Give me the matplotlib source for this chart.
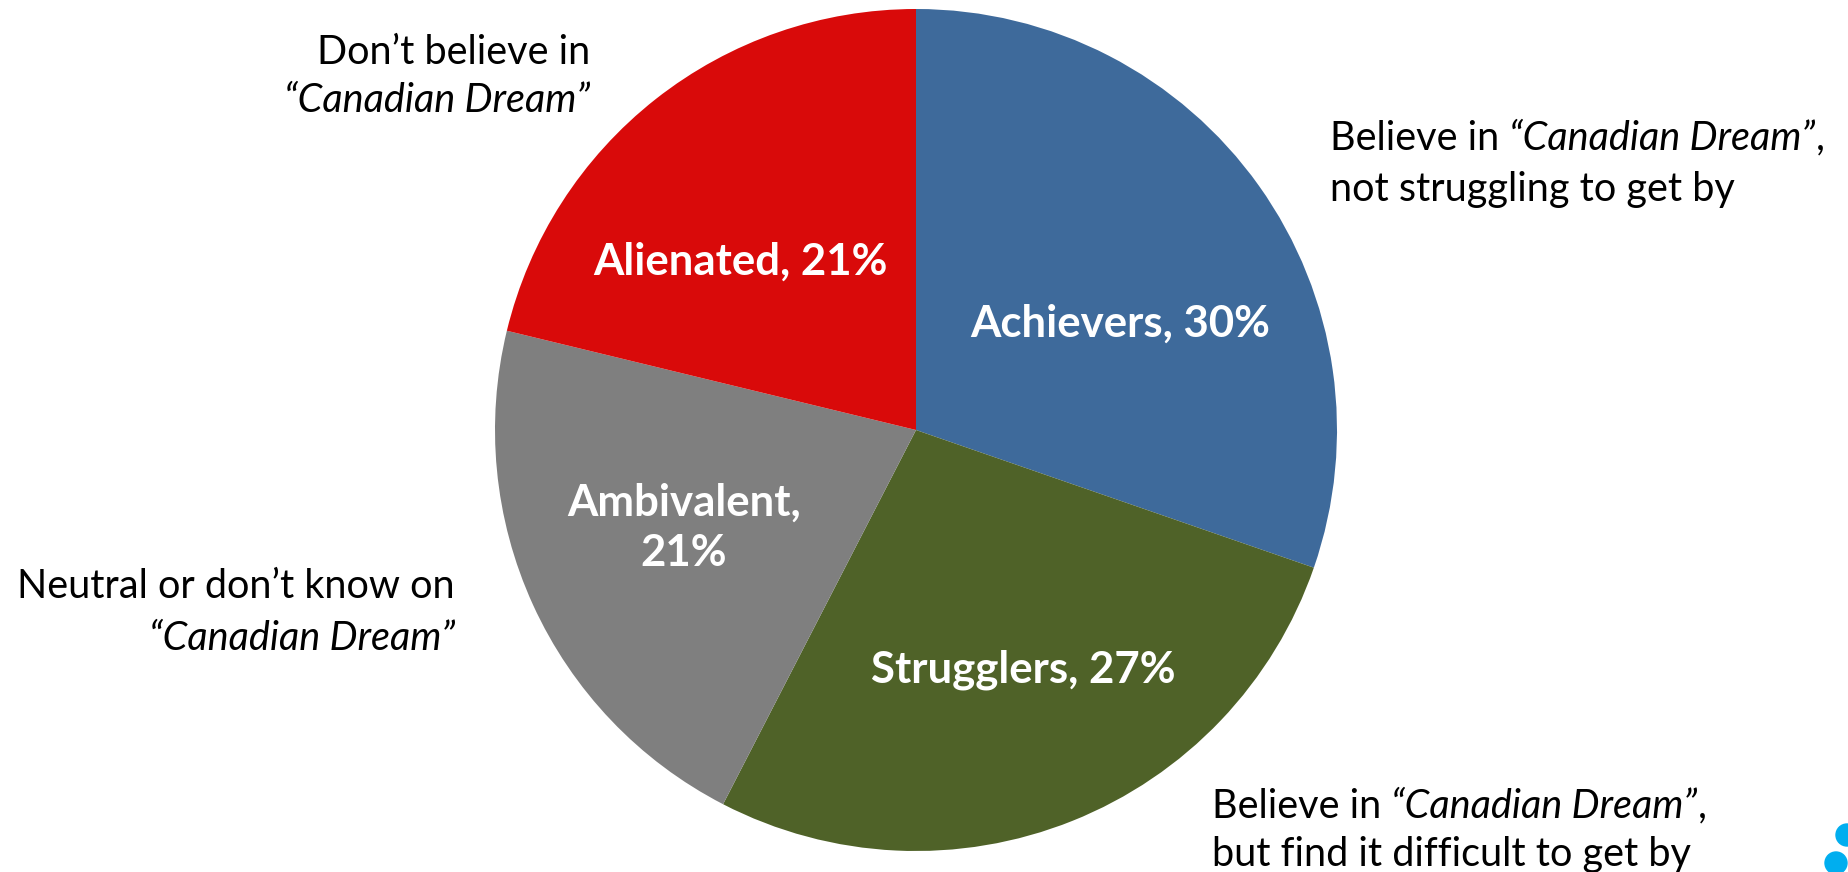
import matplotlib
matplotlib.use("Agg")
import matplotlib.pyplot as plt
from matplotlib.patches import Circle

# ---- data ----
segments = ["Achievers", "Strugglers", "Ambivalent", "Alienated"]
values = [30, 27, 21, 21]
inner_labels = ["Achievers, 30%", "Strugglers, 27%", "Ambivalent,\n21%", "Alienated, 21%"]
colors = ["#3E6A9B", "#4F6228", "#7F7F7F", "#D90A0A"]

W, H = 1849, 872
FONT = "Lato"
plt.rcParams["font.family"] = [FONT, "DejaVu Sans"]

fig = plt.figure(figsize=(W / 100, H / 100), dpi=100)
fig.patch.set_facecolor("white")

cx, cy, R = 916, 430, 421
ax = fig.add_axes([(cx - R) / W, (H - cy - R) / H, 2 * R / W, 2 * R / H])
wedges, _ = ax.pie(values, colors=colors, startangle=90, counterclock=False,
                   radius=1.0, wedgeprops=dict(linewidth=0))
ax.set_xlim(-1, 1)
ax.set_ylim(-1, 1)
ax.set_aspect("equal")
ax.axis("off")

# inner label positions (pixel coords, y from top)
inner_pos = [(1120, 324), (1023, 670), (684, 528), (740, 262)]
for lab, (px, py) in zip(inner_labels, inner_pos):
    fig.text(px / W, 1 - py / H, lab, ha="center", va="center", color="white",
             fontsize=31.5, fontweight="bold", linespacing=1.3)

renderer = fig.canvas.get_renderer()
FS = 28.5

def width_of(s, style):
    t = fig.text(0, 0, s, fontsize=FS, fontstyle=style)
    w = t.get_window_extent(renderer).width
    t.remove()
    return w

space_w = width_of("a a", "normal") - width_of("aa", "normal")

def line(x, y, pieces, ha="left"):
    # pieces: list of (text, style, trailing_space)
    ws = [width_of(t, st) + (space_w if sp else 0) for t, st, sp in pieces]
    total = sum(ws)
    cur = x if ha == "left" else x - total
    for (t, st, sp), w in zip(pieces, ws):
        fig.text(cur / W, 1 - y / H, t, fontsize=FS, fontstyle=st,
                 ha="left", va="center", color="black")
        cur += w

Q = "\u201cCanadian Dream\u201d"
# top-left (Alienated)
line(590, 52, [("Don\u2019t believe in", "normal", False)], ha="right")
line(590, 100, [(Q, "italic", False)], ha="right")
# right (Achievers)
line(1330, 138, [("Believe in", "normal", True), (Q, "italic", False), (",", "normal", False)])
line(1330, 189, [("not struggling to get by", "normal", False)])
# left (Ambivalent)
line(455, 586, [("Neutral or don\u2019t know on", "normal", False)], ha="right")
line(455, 639, [(Q, "italic", False)], ha="right")
# bottom right (Strugglers)
line(1212, 806, [("Believe in", "normal", True), (Q, "italic", False), (",", "normal", False)])
line(1212, 854, [("but find it difficult to get by", "normal", False)])

# logo dots (partially cut off)
for (px, py) in [(1847, 835), (1836, 863)]:
    c = Circle((px / 100, (H - py) / 100), 0.11, transform=fig.dpi_scale_trans,
               color="#00AEEF", clip_on=False)
    fig.patches.append(c)

fig.savefig("out.png", dpi=100, facecolor="white")
